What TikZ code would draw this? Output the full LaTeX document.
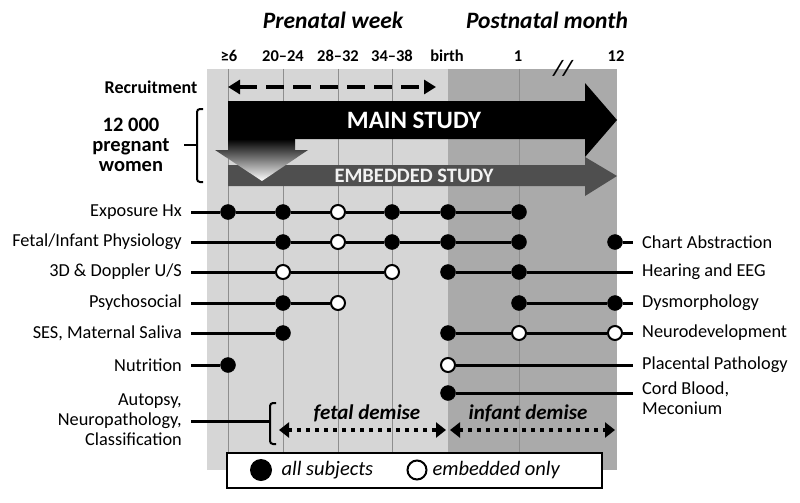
\documentclass[tikz,border=0pt]{standalone}
\usepackage{fontspec}
\setmainfont{Carlito}
\usetikzlibrary{arrows.meta}
\definecolor{prepanel}{HTML}{D6D6D6}
\definecolor{postpanel}{HTML}{AAAAAA}
\definecolor{gridline}{HTML}{8E8E8E}
\definecolor{embedbar}{HTML}{4F4F4F}

\begin{document}
\begin{tikzpicture}[x=1pt,y=-1pt]
\tikzset{fulldot/.style={circle, fill=black, draw=black, minimum size=15pt, inner sep=0pt},
opendot/.style={circle, fill=white, draw=black, line width=2pt, minimum size=14pt, inner sep=0pt},
llab/.style={anchor=east, inner xsep=9pt, font=\fontsize{18.3}{20}\selectfont},
rlab/.style={anchor=west, inner xsep=9pt, font=\fontsize{18.3}{20}\selectfont},
row/.style={line width=3pt},
colhead/.style={font=\bfseries\fontsize{16.5}{18}\selectfont},
period/.style={font=\bfseries\itshape\fontsize{23.5}{26}\selectfont},
legtext/.style={anchor=west, font=\itshape\fontsize{20.5}{22}\selectfont},
demise/.style={line width=4pt, dash pattern=on 4pt off 5pt, {Triangle[length=10pt,width=15pt]}-{Triangle[length=10pt,width=15pt]}}}
\useasboundingbox (0,0) rectangle (800,503);
\fill[white] (0,0) rectangle (800,503);
% background panels
\fill[prepanel] (207,69) rectangle (448,470);
\fill[postpanel] (448,69) rectangle (617,470);
\draw[gridline] (228,69) -- (228,470);
\draw[gridline] (283,69) -- (283,470);
\draw[gridline] (338,69) -- (338,470);
\draw[gridline] (392,69) -- (392,470);
\draw[gridline] (519,69) -- (519,470);
% headings
\node[period] (pre) at (333,20) {Prenatal week};
\node[period] (post) at (547,20) {Postnatal month};
\node[colhead] (c1) at (229,56) {≥6};
\node[colhead] (c2) at (283,56) {20–24};
\node[colhead] (c3) at (338,56) {28–32};
\node[colhead] (c4) at (392,56) {34–38};
\node[colhead] (c5) at (447,56) {birth};
\node[colhead] (c6) at (518,56) {1};
\node[colhead] (c7) at (616,56) {12};
\node[font=\bfseries\itshape\fontsize{22}{24}\selectfont] (brk) at (563,68) {//};
% recruitment
\node[font=\bfseries\fontsize{18}{20}\selectfont] (rec) at (151,87) {Recruitment};
\coordinate (recA) at (228,87);
\coordinate (recB) at (436,87);
\draw[line width=4pt, dash pattern=on 18pt off 9pt, {Triangle[length=12pt,width=14pt]}-{Triangle[length=12pt,width=14pt]}] (recA) -- (recB);
% study arrows
\fill[black] (228,101) -- (585,101) -- (585,83) -- (617,120) -- (585,157) -- (585,139) -- (228,139) -- cycle;
\node[white, font=\bfseries\fontsize{25}{27}\selectfont] (main) at (414,120) {MAIN STUDY};
\fill[embedbar] (228,165) -- (585,165) -- (585,157) -- (617,176) -- (585,196) -- (585,186) -- (228,186) -- cycle;
\node[black!5, font=\bfseries\fontsize{20.5}{22}\selectfont] (emb) at (414,176) {EMBEDDED STUDY};
\shade[top color=black, bottom color=white] (228,139) -- (295,139) -- (295,150) -- (308,150) -- (262,181) -- (215,150) -- (228,150) -- cycle;
% 12 000 women
\node[align=center, font=\bfseries\fontsize{20.5}{20}\selectfont] (women) at (131,145) {12 000\\pregnant\\women};
\coordinate (womenbr) at (184,145);
\draw[line width=2pt, rounded corners=3pt] (203,109) -- (197,109) -- (197,182) -- (203,182);
\draw[line width=2pt] (197,145) -- (womenbr);
% Exposure Hx
\node[llab] (exL) at (191,212) {Exposure Hx};
\node[fulldot] (ex1) at (228,212) {};
\node[fulldot] (ex2) at (283,212) {};
\node[opendot] (ex3) at (338,212) {};
\node[fulldot] (ex4) at (392,212) {};
\node[fulldot] (ex5) at (448,212) {};
\node[fulldot] (ex6) at (519,212) {};
\draw[row] (exL) -- (ex1) -- (ex2) -- (ex3) -- (ex4) -- (ex5) -- (ex6);
% Fetal/Infant Physiology, Chart Abstraction
\node[llab] (fpL) at (191,242) {Fetal/Infant Physiology};
\node[fulldot] (fp2) at (283,242) {};
\node[opendot] (fp3) at (338,242) {};
\node[fulldot] (fp4) at (392,242) {};
\node[fulldot] (fp5) at (448,242) {};
\node[fulldot] (fp6) at (519,242) {};
\draw[row] (fpL) -- (fp2) -- (fp3) -- (fp4) -- (fp5) -- (fp6);
\node[rlab] (caL) at (633,242) {Chart Abstraction};
\node[fulldot] (ca7) at (615,242) {};
\draw[row] (ca7) -- (caL);
% 3D & Doppler U/S, Hearing and EEG
\node[llab] (usL) at (191,272) {3D \& Doppler U/S};
\node[opendot] (us2) at (283,272) {};
\node[opendot] (us4) at (392,272) {};
\draw[row] (usL) -- (us2) -- (us4);
\node[rlab] (heL) at (633,272) {Hearing and EEG};
\node[fulldot] (he5) at (448,272) {};
\node[fulldot] (he6) at (519,272) {};
\draw[row] (he5) -- (he6) -- (heL);
% Psychosocial, Dysmorphology
\node[llab] (psL) at (191,303) {Psychosocial};
\node[fulldot] (ps2) at (283,303) {};
\node[opendot] (ps3) at (338,303) {};
\draw[row] (psL) -- (ps2) -- (ps3);
\node[rlab] (dyL) at (633,303) {Dysmorphology};
\node[fulldot] (dy6) at (519,303) {};
\node[fulldot] (dy7) at (615,303) {};
\draw[row] (dy6) -- (dy7) -- (dyL);
% SES, Neurodevelopment
\node[llab] (seL) at (191,333) {SES, Maternal Saliva};
\node[fulldot] (se2) at (283,333) {};
\draw[row] (seL) -- (se2);
\node[rlab] (ndL) at (633,333) {Neurodevelopment};
\node[fulldot] (nd5) at (448,333) {};
\node[opendot] (nd6) at (519,333) {};
\node[opendot] (nd7) at (615,333) {};
\draw[row] (nd5) -- (nd6) -- (nd7) -- (ndL);
% Nutrition, Placental Pathology
\node[llab] (nuL) at (191,365) {Nutrition};
\node[fulldot] (nu1) at (228,365) {};
\draw[row] (nuL) -- (nu1);
\node[rlab] (ppL) at (633,365) {Placental Pathology};
\node[opendot] (pp5) at (448,365) {};
\draw[row] (pp5) -- (ppL);
% Cord Blood
\node[rlab, anchor=north west, align=left, inner ysep=0pt] (cbL) at (633,382) {Cord Blood,\\Meconium};
\node[fulldot] (cb5) at (448,393) {};
\draw[row] (cb5) -- (cb5 -| cbL.west);
% Autopsy
\node[llab, align=right] (auL) at (191,420) {Autopsy,\\Neuropathology,\\Classification};
\coordinate (aubr) at (270,421);
\draw[row] (auL.east |- aubr) -- (aubr);
\draw[line width=2pt, rounded corners=3pt] (276,403) -- (270,403) -- (270,444) -- (276,444);
\coordinate (fdA) at (279,430);
\coordinate (fdB) at (446,430);
\coordinate (idA) at (450,430);
\coordinate (idB) at (615,430);
\draw[demise] (fdA) -- (fdB);
\draw[demise] (idA) -- (idB);
\node[font=\bfseries\itshape\fontsize{21}{23}\selectfont] (fd) at (367,413) {fetal demise};
\node[font=\bfseries\itshape\fontsize{21}{23}\selectfont] (id) at (528,413) {infant demise};
% legend
\node[draw, fill=white, line width=2.5pt, minimum width=375pt, minimum height=35pt] (legend) at (414.5,470.5) {};
\node[circle, fill=black, minimum size=22pt, inner sep=0pt] (lgfull) at (261,470) {};
\node[legtext] (lgfullT) at (278,470) {all subjects};
\node[circle, draw=black, fill=white, line width=2pt, minimum size=19pt, inner sep=0pt] (lgopen) at (417,470) {};
\node[legtext] (lgopenT) at (429,470) {embedded only};
\end{tikzpicture}
\end{document}
